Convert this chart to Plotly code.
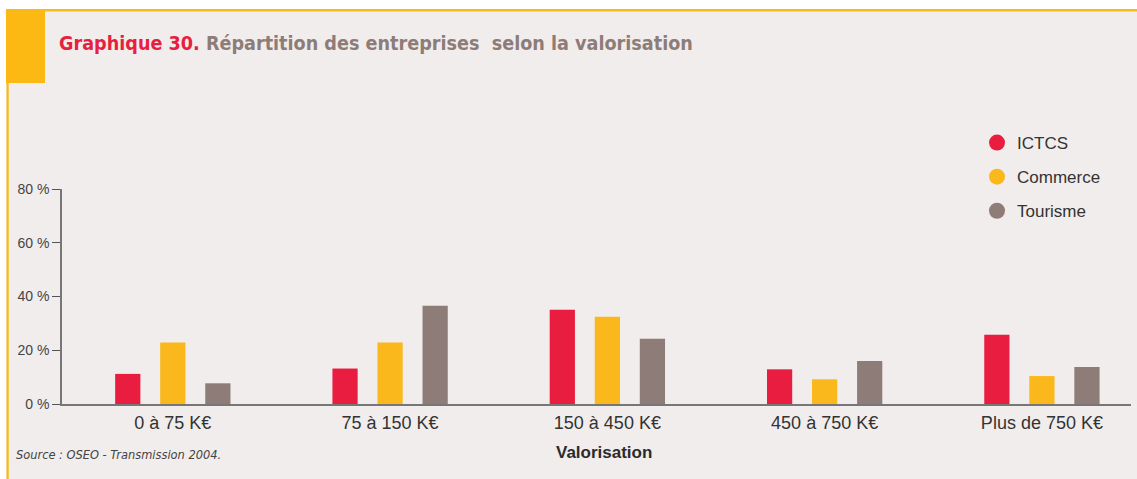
import plotly.graph_objects as go

categories = ["0 à 75 K€", "75 à 150 K€", "150 à 450 K€", "450 à 750 K€", "Plus de 750 K€"]
ictcs = [11.2, 13.2, 35.1, 12.9, 25.8]
commerce = [22.9, 22.9, 32.5, 9.2, 10.4]
tourisme = [7.7, 36.6, 24.3, 16.0, 13.8]
series_names = ["ICTCS", "Commerce", "Tourisme"]
y_tickvals = [0, 20, 40, 60, 80]
y_ticktext = ["0 %", "20 %", "40 %", "60 %", "80 %"]

colors = {"ICTCS": "#E91D40", "Commerce": "#FBB81C", "Tourisme": "#8D7C77"}
YELLOW = "#FDB913"
BG = "#F1EDEC"
NARROW = "Liberation Sans Narrow, DejaVu Sans Condensed, Arial Narrow, sans-serif"
SANS = "Liberation Sans, Arial, sans-serif"

W, H = 1137, 479
L, R, T, B = 62, 6, 189, 75
PW = W - L - R
PH = H - T - B


def fx(p):
    return (p - L) / PW


def fy(p):
    return (H - B - p) / PH


fig = go.Figure()
values = {"ICTCS": ictcs, "Commerce": commerce, "Tourisme": tourisme}
for name in series_names:
    fig.add_trace(go.Bar(x=categories, y=values[name], name=name,
                         marker=dict(color=colors[name], line=dict(width=0)),
                         showlegend=False))
for name in series_names:
    fig.add_trace(go.Scatter(x=[None], y=[None], mode="markers", name=name,
                             legendgroup=name,
                             marker=dict(size=17, color=colors[name], symbol="circle")))

shapes = [
    dict(type="rect", xref="paper", yref="paper", x0=fx(6), x1=fx(W + 2), y0=fy(H + 2), y1=fy(9),
         fillcolor=BG, line=dict(width=0), layer="below"),
    dict(type="rect", xref="paper", yref="paper", x0=fx(6), x1=fx(W + 2), y0=fy(11.5), y1=fy(9),
         fillcolor=YELLOW, line=dict(width=0), layer="below"),
    dict(type="rect", xref="paper", yref="paper", x0=fx(6), x1=fx(45), y0=fy(83), y1=fy(9),
         fillcolor=YELLOW, line=dict(width=0), layer="below"),
    dict(type="rect", xref="paper", yref="paper", x0=fx(6.5), x1=fx(8.7), y0=fy(H + 2), y1=fy(83),
         fillcolor=YELLOW, line=dict(width=0), layer="below"),
]

annotations = [
    dict(xref="paper", yref="paper", x=fx(57), y=fy(43), xanchor="left", yanchor="middle",
         showarrow=False,
         text="<b><span style='color:#E8203F'>Graphique 30.</span> Répartition des entreprises  selon la valorisation</b>",
         font=dict(family=NARROW, size=19.6, color="#8D7C77")),
    dict(xref="paper", yref="paper", x=fx(604), y=fy(452), xanchor="center", yanchor="middle",
         showarrow=False, text="<b>Valorisation</b>",
         font=dict(family=SANS, size=17, color="#2b2b2b")),
    dict(xref="paper", yref="paper", x=fx(14), y=fy(454), xanchor="left", yanchor="middle",
         showarrow=False, text="<i>Source : OSEO - Transmission 2004.</i>",
         font=dict(family=NARROW, size=12.7, color="#444444")),
]

fig.update_layout(
    width=W, height=H,
    margin=dict(l=L, r=R, t=T, b=B, autoexpand=False),
    paper_bgcolor="white",
    plot_bgcolor="rgba(0,0,0,0)",
    barmode="group",
    bargap=0.378,
    bargroupgap=0.44,
    shapes=shapes,
    annotations=annotations,
    showlegend=True,
    legend=dict(x=fx(977), y=fy(125), xanchor="left", yanchor="top",
                bgcolor="rgba(0,0,0,0)", font=dict(family=SANS, size=17, color="#333333"),
                traceorder="grouped", tracegroupgap=9),
    xaxis=dict(type="category", range=[-0.51, 4.41], showline=True, linecolor="#777777",
               linewidth=1.5, ticks="", showgrid=False, zeroline=False, ticklabelstandoff=2,
               tickfont=dict(family=SANS, size=18, color="#333333")),
    yaxis=dict(range=[0, 80], tickvals=y_tickvals, ticktext=y_ticktext, showline=True,
               linecolor="#777777", linewidth=1.5, ticks="outside", ticklen=8,
               tickcolor="#555555", tickwidth=1.2, showgrid=False, zeroline=False,
               tickfont=dict(family=SANS, size=14, color="#444444")),
)

fig.write_html("out.html", config={"displayModeBar": False},
               post_script="document.body.style.margin='0';")
